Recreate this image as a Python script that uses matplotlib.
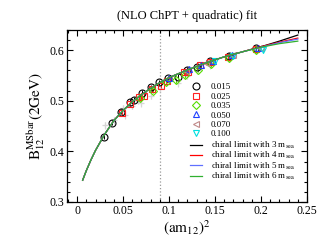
import matplotlib
matplotlib.use("Agg")
import matplotlib.pyplot as plt
from matplotlib.lines import Line2D
from matplotlib.ticker import MultipleLocator

plt.rcParams['font.family'] = ['Liberation Serif', 'DejaVu Serif']
plt.rcParams['mathtext.fontset'] = 'stix'

# ---- data ----
title = "(NLO ChPT + quadratic) fit"
sea_labels = ["0.015", "0.025", "0.035", "0.050", "0.070", "0.100"]

x_015 = [0.029, 0.038, 0.048, 0.058, 0.062, 0.071, 0.080, 0.089, 0.099, 0.110, 0.119, 0.130, 0.145, 0.165, 0.195]
y_015 = [0.429, 0.457, 0.478, 0.498, 0.502, 0.516, 0.527, 0.537, 0.545, 0.548, 0.561, 0.567, 0.578, 0.589, 0.604]

x_025 = [0.049, 0.058, 0.067, 0.073, 0.081, 0.091, 0.098, 0.116, 0.121, 0.134, 0.145, 0.164, 0.195]
y_025 = [0.476, 0.494, 0.507, 0.510, 0.523, 0.530, 0.540, 0.556, 0.556, 0.570, 0.577, 0.587, 0.602]

x_035 = [0.068, 0.082, 0.097, 0.107, 0.117, 0.131, 0.146, 0.165, 0.195]
y_035 = [0.505, 0.520, 0.537, 0.541, 0.551, 0.561, 0.572, 0.584, 0.600]

x_050 = [0.100, 0.122, 0.135, 0.148, 0.168, 0.197]
y_050 = [0.546, 0.562, 0.571, 0.578, 0.590, 0.604]

x_070 = [0.118, 0.140, 0.170, 0.200]
y_070 = [0.558, 0.575, 0.590, 0.605]

x_100 = [0.150, 0.170, 0.202]
y_100 = [0.578, 0.588, 0.600]

x_grey = [0.030, 0.040, 0.050, 0.052, 0.060, 0.066, 0.070, 0.080, 0.090, 0.110, 0.120, 0.130, 0.145, 0.165, 0.195]
y_grey = [0.452, 0.462, 0.485, 0.472, 0.490, 0.500, 0.495, 0.510, 0.525, 0.535, 0.550, 0.560, 0.570, 0.583, 0.600]

x_curve = [0.006, 0.010, 0.015, 0.020, 0.025, 0.030, 0.040, 0.050, 0.060, 0.070, 0.080, 0.090,
           0.100, 0.120, 0.140, 0.160, 0.180, 0.200, 0.220, 0.240]
y_curve_3 = [0.343, 0.362, 0.383, 0.402, 0.418, 0.434, 0.461, 0.481, 0.498, 0.512, 0.525, 0.536,
             0.546, 0.561, 0.575, 0.587, 0.597, 0.607, 0.618, 0.630]
y_curve_4 = [0.343, 0.362, 0.383, 0.402, 0.418, 0.434, 0.461, 0.481, 0.498, 0.512, 0.525, 0.536,
             0.546, 0.561, 0.575, 0.587, 0.597, 0.607, 0.616, 0.624]
y_curve_5 = [0.343, 0.362, 0.383, 0.402, 0.418, 0.434, 0.461, 0.481, 0.498, 0.512, 0.525, 0.536,
             0.546, 0.561, 0.575, 0.587, 0.597, 0.606, 0.615, 0.622]
y_curve_6 = [0.343, 0.362, 0.383, 0.402, 0.418, 0.434, 0.461, 0.481, 0.498, 0.512, 0.525, 0.536,
             0.546, 0.561, 0.575, 0.587, 0.597, 0.606, 0.613, 0.618]
curve_labels = [r"chiral limit with 3 m$_{\rm sea}$", r"chiral limit with 4 m$_{\rm sea}$",
                r"chiral limit with 5 m$_{\rm sea}$", r"chiral limit with 6 m$_{\rm sea}$"]
x_vline = 0.09
err = 0.005

# ---- figure ----
fig = plt.figure(figsize=(3.31, 2.40), dpi=100)
ax = fig.add_axes([67/331, 1-202/240, 240/331, 172/240])

ax.axvline(x_vline, color='#999999', ls=':', lw=0.9, zorder=1)

ax.errorbar(x_grey, y_grey, yerr=err*1.4, fmt='+', color='#d6d6d6', ms=5, mew=0.9,
            elinewidth=0.8, capsize=0, zorder=2)

series = [
    (x_015, y_015, 'o', 'black'),
    (x_025, y_025, 's', '#ff2020'),
    (x_035, y_035, 'D', '#55dd00'),
    (x_050, y_050, '^', '#2040ff'),
    (x_070, y_070, '<', '#c08a8a'),
    (x_100, y_100, 'v', '#00e0e0'),
]
mhandles = []
for (xs, ys, m, c), lab in zip(series, sea_labels):
    ms = 4.0 if m == 'D' else 5.0
    if m == 's':
        ms = 4.6
    ax.errorbar(xs, ys, yerr=err, fmt=m, mfc='none', mec=c, ecolor=c, ms=ms, mew=0.8,
                elinewidth=0.7, capsize=0, zorder=3)
    mhandles.append(Line2D([], [], ls='none', marker=m, mfc='none', mec=c, ms=ms, mew=0.8, label=lab))

lhandles = []
curve_cols = ['black', '#ff0000', '#6070ff', '#30b030']
for ys, c, lab in zip([y_curve_3, y_curve_4, y_curve_5, y_curve_6], curve_cols, curve_labels):
    ax.plot(x_curve, ys, color=c, lw=0.9, zorder=4)
    lhandles.append(Line2D([], [], color=c, lw=0.9, label=lab))

ax.set_xlim(-0.011, 0.25)
ax.set_ylim(0.3, 0.64)
ax.xaxis.set_minor_locator(MultipleLocator(0.01))
ax.yaxis.set_minor_locator(MultipleLocator(0.02))
ax.set_xticks([0, 0.05, 0.1, 0.15, 0.2, 0.25])
ax.set_xticklabels(["0", "0.05", "0.1", "0.15", "0.2", "0.25"])
ax.set_yticks([0.3, 0.4, 0.5, 0.6])
ax.set_yticklabels(["0.3", "0.4", "0.5", "0.6"])
ax.tick_params(which='both', direction='in', top=True, right=True, labelsize=8.5, width=0.8, pad=2)
ax.tick_params(which='major', length=4)
ax.tick_params(which='minor', length=2)
for s in ax.spines.values():
    s.set_linewidth(0.9)

ax.set_title(title, fontsize=9, pad=8)
ax.set_xlabel(r"$\mathrm{(am_{12})^2}$", fontsize=11, labelpad=1)
ax.set_ylabel(r"$\mathrm{B_{12}^{MSbar}(2GeV)}$", fontsize=11, labelpad=2)

leg1 = fig.legend(handles=mhandles, loc='upper left', bbox_to_anchor=(190/331, 1-83/240),
                  frameon=False, fontsize=6.5, handlelength=1.3, handletextpad=1.0,
                  labelspacing=0.12, borderpad=0, borderaxespad=0, numpoints=1)
leg2 = fig.legend(handles=lhandles, loc='upper left', bbox_to_anchor=(190/331, 1-140/240),
                  frameon=False, fontsize=6.5, handlelength=1.3, handletextpad=1.0,
                  labelspacing=-0.1, borderpad=0, borderaxespad=0)

fig.savefig("out.png", dpi=100)
